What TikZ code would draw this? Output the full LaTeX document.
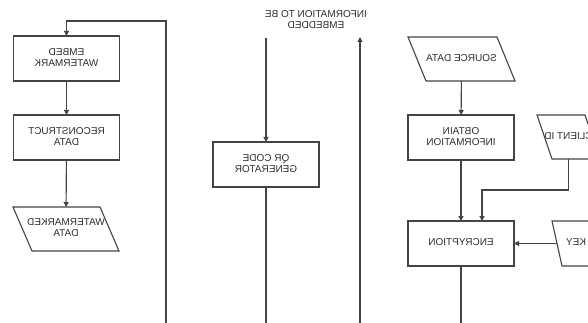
\documentclass[tikz,border=0pt]{standalone}
\usepackage{graphicx}
\usepackage{fontspec}
\setmainfont{Liberation Sans}
\usetikzlibrary{arrows.meta}
\definecolor{ln}{HTML}{444444}
\definecolor{tx}{HTML}{2E2E2E}
\newcommand{\mirtext}[1]{\reflectbox{\begin{tabular}{@{}c@{}}#1\end{tabular}}}
\newcommand{\paraline}[2]{\draw[line] (#1.north west) -- ([xshift=-#2pt]#1.north east) -- (#1.south east) -- ([xshift=#2pt]#1.south west) -- cycle;}
\tikzset{
  line/.style={draw=ln, line width=1.1pt},
  arr/.style={line, -{Triangle[length=5pt,width=5pt]}},
  boxnode/.style={draw=ln, line width=1.1pt, rectangle, inner sep=0pt, outer sep=0pt,
    minimum width=106pt, minimum height=45pt, text=tx,
    font=\fontsize{10}{10.8}\selectfont},
  datanode/.style={rectangle, inner sep=0pt, outer sep=0pt, text=tx,
    font=\fontsize{10}{10.8}\selectfont},
  labelnode/.style={inner sep=0pt, text=tx, font=\fontsize{10}{10.8}\selectfont}
}
\begin{document}
\begin{tikzpicture}[x=1pt,y=-1pt]
\useasboundingbox (0,0) rectangle (588,323);
\clip (0,0) rectangle (588,323);
\fill[white] (0,0) rectangle (588,323);
% left column
\node[boxnode] (embed) at (66.5,58.5) {\mirtext{EMBED\\WATERMARK}};
\node[boxnode] (recon) at (66.5,137.5) {\mirtext{RECONSTRUCT\\DATA}};
\node[datanode, minimum width=106pt, minimum height=44pt] (wm) at (66,229) {\mirtext{WATERMARKED\\DATA}};
\paraline{wm}{19}
% middle
\node[labelnode] (info) at (316,21) {\mirtext{INFORMATION TO BE\\EMBEDDED}};
\coordinate (infoin) at (266,38);
\coordinate (infoout) at (360,37);
\node[boxnode] (qr) at (266,164.5) {\mirtext{QR CODE\\GENERATOR}};
% right column
\node[datanode, minimum width=107pt, minimum height=44pt] (src) at (461.5,59) {\mirtext{SOURCE DATA}};
\paraline{src}{18}
\node[boxnode] (obtain) at (461,137.5) {\mirtext{OBTAIN\\INFORMATION}};
\node[boxnode] (enc) at (461,243.5) {\mirtext{ENCRYPTION}};
\node[datanode, minimum width=63pt, minimum height=44pt] (client) at (568.5,137) {\mirtext{CLIENT ID}};
\paraline{client}{15}
\node[datanode, minimum width=48pt, minimum height=45pt] (key) at (576,243.5) {\mirtext{KEY}};
\paraline{key}{10}
% bottom free ends
\coordinate (b1) at (166,323);
\coordinate (b2) at (266,323);
\coordinate (b3) at (360,323);
\coordinate (b4) at (461,323);
\coordinate (top) at (166,21);
% connectors
\draw[arr] (b1) -- (top) -| (embed.north);
\draw[arr] (embed) -- (recon);
\draw[arr] (recon) -- (wm);
\draw[arr] (infoin) -- (qr.north);
\draw[line] (qr.south) -- (b2);
\draw[arr] (b3) -- (infoout);
\draw[arr] (src) -- (obtain);
\draw[arr] (obtain) -- (enc);
\draw[arr] (client.south) -- ++(0,31) -| ([xshift=21pt]enc.north);
\draw[arr] ([xshift=5pt]key.west) -- (enc.east);
\draw[line] (enc.south) -- (b4);
\end{tikzpicture}
\end{document}
